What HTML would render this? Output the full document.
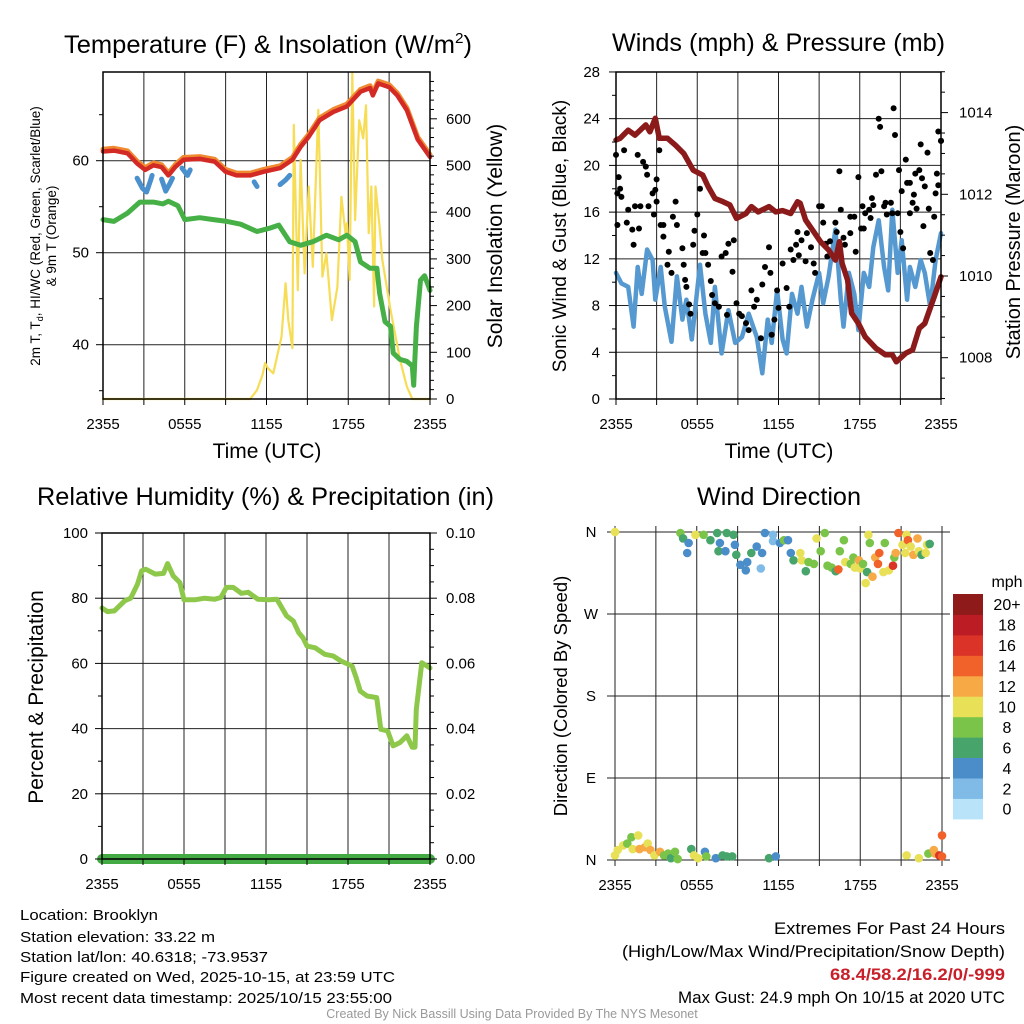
<!DOCTYPE html>
<html><head><meta charset="utf-8"><style>
body{margin:0;background:#fff}
svg{display:block;font-family:"Liberation Sans",Arial,sans-serif}
</style></head><body>
<svg id="fig" width="1024" height="1024" viewBox="0 0 1024 1024" xmlns="http://www.w3.org/2000/svg">
<rect width="1024" height="1024" fill="#fff"/>
<g id="grid" stroke="#222" stroke-width="1"></g>
<g id="marks"></g>
<g id="axes" stroke="#000" stroke-width="1"></g>
<g id="labels" font-size="15" fill="#000"></g>
<!-- titles -->
<text x="64" y="53" font-size="25" textLength="408" lengthAdjust="spacingAndGlyphs">Temperature (F) &amp; Insolation (W/m<tspan font-size="15" dy="-10">2</tspan><tspan dy="10">)</tspan></text>
<text x="612" y="51" font-size="25" textLength="333" lengthAdjust="spacingAndGlyphs">Winds (mph) &amp; Pressure (mb)</text>
<text x="37" y="505" font-size="25" textLength="457" lengthAdjust="spacingAndGlyphs">Relative Humidity (%) &amp; Precipitation (in)</text>
<text x="697" y="505" font-size="25" textLength="164" lengthAdjust="spacingAndGlyphs">Wind Direction</text>
<!-- axis titles -->
<text x="267" y="458" font-size="21" text-anchor="middle">Time (UTC)</text>
<text x="779" y="458" font-size="21" text-anchor="middle">Time (UTC)</text>
<text font-size="13.5" text-anchor="middle" transform="translate(40,236) rotate(-90)">2m T, T<tspan font-size="9" dy="3">d</tspan><tspan dy="-3">, HI/WC (Red, Green, Scarlet/Blue)</tspan></text>
<text font-size="13.5" text-anchor="middle" transform="translate(56,236) rotate(-90)">&amp; 9m T (Orange)</text>
<text font-size="21" text-anchor="middle" transform="translate(502,236) rotate(-90)">Solar Insolation (Yellow)</text>
<text font-size="19" text-anchor="middle" transform="translate(566,236) rotate(-90)">Sonic Wind &amp; Gust (Blue, Black)</text>
<text font-size="20" text-anchor="middle" transform="translate(1020,242) rotate(-90)">Station Pressure (Maroon)</text>
<text font-size="21" text-anchor="middle" transform="translate(43,697) rotate(-90)">Percent &amp; Precipitation</text>
<text font-size="18.5" text-anchor="middle" transform="translate(567,696) rotate(-90)">Direction (Colored By Speed)</text>
<!-- footer info -->
<g font-size="15">
<text x="20" y="920" textLength="138" lengthAdjust="spacingAndGlyphs">Location: Brooklyn</text>
<text x="20" y="942" textLength="195" lengthAdjust="spacingAndGlyphs">Station elevation: 33.22 m</text>
<text x="20" y="962" textLength="248" lengthAdjust="spacingAndGlyphs">Station lat/lon: 40.6318; -73.9537</text>
<text x="20" y="982" textLength="375" lengthAdjust="spacingAndGlyphs">Figure created on Wed, 2025-10-15, at 23:59 UTC</text>
<text x="20" y="1003" textLength="372" lengthAdjust="spacingAndGlyphs">Most recent data timestamp: 2025/10/15 23:55:00</text>
</g>
<g font-size="16.5">
<text x="774" y="934" textLength="231" lengthAdjust="spacingAndGlyphs">Extremes For Past 24 Hours</text>
<text x="622" y="957" textLength="383" lengthAdjust="spacingAndGlyphs">(High/Low/Max Wind/Precipitation/Snow Depth)</text>
<text x="830" y="980" fill="#c8202a" font-weight="bold" textLength="175" lengthAdjust="spacingAndGlyphs">68.4/58.2/16.2/0/-999</text>
<text x="678" y="1003" textLength="327" lengthAdjust="spacingAndGlyphs">Max Gust: 24.9 mph On 10/15 at 2020 UTC</text>
</g>
<text x="512" y="1018" font-size="12.5" fill="#999" text-anchor="middle">Created By Nick Bassill Using Data Provided By The NYS Mesonet</text>
<g id="cbar"></g>
</svg>
<script>
// ---------- data ----------
const xTickLabels = ["2355","0555","1155","1755","2355"];
const tempTime = [0,0.8,1.8,2.5,3.1,3.7,4.3,4.8,5.3,5.9,7.1,8.2,9.0,9.8,10.8,11.8,13.0,13.9,14.5,15.1,15.9,16.9,17.9,18.9,19.6,19.8,20.2,21.0,21.6,22.3,23.1,24];
const tempVals = [61.0,61.1,60.8,59.7,59.0,59.5,59.3,58.4,59.3,60.1,60.2,59.9,58.8,58.4,58.4,58.8,59.2,60.1,61.5,62.6,64.4,65.3,65.9,67.5,67.9,67.1,68.4,68.0,67.1,65.5,62.3,60.4];
const dewTime = [0,0.8,1.8,2.7,3.7,4.4,4.8,5.5,6.0,7.1,8.1,9.1,10.1,11.3,12.3,12.9,13.7,14.5,15.4,16.4,17.3,17.9,18.5,18.9,19.6,20.1,20.3,20.7,21.1,21.3,21.8,22.3,22.7,22.8,23.0,23.3,23.6,24];
const dewVals = [53.6,53.4,54.3,55.5,55.5,55.3,55.6,55.1,53.6,53.8,53.6,53.4,53.1,52.3,52.7,53.0,51.2,50.8,51.2,51.9,51.4,51.9,51.2,49.0,48.3,48.3,45.6,42.5,42.0,39.1,38.4,38.2,37.7,35.6,42.0,47.0,47.5,45.9];
const hiwcSegments = [
  [[2.5,58.1],[2.9,57.0],[3.2,56.6],[3.5,57.9],[3.6,58.4]],
  [[4.3,58.0],[4.6,56.7],[4.9,57.5],[5.1,58.1]],
  [[5.8,59.2],[6.2,58.4],[6.4,59.0]],
  [[11.1,57.7],[11.3,57.2]],
  [[13.0,57.4],[13.4,57.9],[13.7,58.4]]
];
const solTime = [0,10.8,11.3,11.7,11.9,12.1,12.5,13.1,13.4,13.6,13.9,14.0,14.3,14.5,14.8,15.1,15.4,15.8,16.1,16.4,16.8,17.2,17.5,17.8,17.9,18.1,18.3,18.5,18.8,19.1,19.3,19.5,19.7,19.9,20.0,20.3,20.5,21.1,21.8,22.3,22.7,24];
const solVals = [0,0,19,51,77,66,55,133,248,169,109,587,233,512,269,455,283,619,262,312,169,240,433,355,376,255,698,383,597,558,629,355,455,198,455,369,298,191,84,27,0,0];
const windTime = [0,0.4,0.9,1.3,1.6,1.9,2.3,2.7,2.9,3.3,3.6,4.1,4.5,4.9,5.2,5.6,6.2,6.6,7.0,7.3,7.8,8.3,8.8,9.3,9.8,10.4,10.8,11.2,11.5,11.9,12.3,12.6,13.0,13.4,13.7,14.1,14.5,15.0,15.3,15.7,16.2,16.6,16.8,17.2,17.6,17.9,18.3,18.7,19.0,19.4,19.8,20.1,20.4,20.8,21.1,21.5,21.7,22.1,22.5,22.8,23.2,23.6,24];
const windVals = [10.8,9.9,9.6,6.2,11.3,9.0,12.8,11.9,8.5,11.3,7.9,4.9,10.5,6.8,8.5,5.1,11.5,7.3,4.8,9.6,3.9,7.6,4.8,5.3,7.3,5.3,2.2,6.8,4.8,9.3,5.1,3.9,9.0,7.3,9.6,6.2,8.5,10.8,8.2,10.5,14.5,8.5,6.2,10.8,9.0,5.9,10.8,9.6,13.0,15.3,11.3,9.3,16.2,10.8,13.6,8.5,11.3,9.6,11.9,10.8,7.9,11.9,14.2];
const gustTime = [0,0.2,0.1,0.3,0.1,0.6,0.4,0.9,0.8,1.2,1.4,1.6,1.3,1.7,1.8,2.0,2.2,2.3,2.4,2.7,2.8,2.9,3.0,3.2,3.0,3.3,3.5,3.5,3.9,3.8,4.1,4.2,4.4,4.5,4.9,5.0,5.1,5.2,5.4,5.5,5.7,5.8,6.0,6.2,6.4,6.5,6.6,6.8,7.0,7.1,7.3,7.6,7.8,8.1,8.2,8.3,8.6,8.7,8.9,9.1,9.3,9.6,9.8,10.0,10.2,10.4,10.7,10.8,11.0,11.3,11.4,11.5,11.7,11.9,12.0,12.3,12.6,12.8,12.9,13.1,13.3,13.4,13.5,13.7,14.0,14.1,14.4,14.6,14.7,15.0,15.2,15.3,15.5,15.6,15.8,16.2,16.3,16.5,16.6,16.8,16.9,17.3,17.3,17.6,17.7,17.9,18.1,18.2,18.3,18.4,18.7,18.8,18.9,19.0,19.2,19.4,19.5,19.6,19.8,19.9,20.0,20.3,20.4,20.5,20.6,20.8,20.9,21.0,21.1,21.2,21.4,21.5,21.7,21.7,21.9,22.0,22.1,22.2,22.4,22.5,22.6,22.7,22.8,23.0,23.1,23.2,23.4,23.5,23.6,23.7,23.8,24.0,23.8,24.0];
const gustVals = [20.9,19.0,17.6,18.0,14.9,21.3,17.3,16.2,15.1,14.5,16.5,20.9,13.2,14.6,16.5,20.3,19.9,19.2,16.5,17.6,15.8,17.9,16.9,21.3,18.8,14.9,14.9,13.9,12.6,11.5,10.8,15.6,16.9,14.9,12.9,11.5,10.2,9.6,8.1,7.3,13.2,14.4,15.8,18.0,12.5,14.0,12.5,11.5,10.1,8.9,8.2,7.9,12.2,12.5,7.2,13.3,10.9,13.6,8.2,7.3,7.1,6.5,5.9,9.3,7.9,8.5,5.2,9.8,11.3,13.0,10.8,5.5,6.8,9.3,7.8,11.6,9.5,7.9,12.8,11.9,13.2,14.3,12.3,13.6,11.8,14.2,13.0,11.6,10.8,16.5,16.5,15.1,13.3,12.2,13.5,15.1,14.3,19.5,16.2,13.8,13.2,14.2,15.6,15.6,12.6,19.0,14.6,16.5,14.6,15.9,16.2,15.5,17.2,16.6,19.2,24.0,23.3,19.5,16.5,16.8,15.8,16.8,15.9,24.9,22.6,15.9,19.6,14.3,17.8,12.9,20.5,18.5,15.9,18.5,16.8,17.5,19.3,16.3,19.6,21.8,18.9,14.8,18.2,21.1,16.3,12.5,11.9,15.6,17.6,19.3,18.3,22.1,22.9,22.1];
const presTime = [0,0.3,0.9,1.4,2.2,2.5,2.9,3.2,3.8,4.4,5.0,5.7,6.4,6.8,7.3,7.9,8.4,8.9,9.6,10.0,10.5,11.3,11.8,12.3,12.9,13.4,13.6,14.0,14.5,15.1,15.7,16.2,16.5,16.7,17.1,17.4,17.9,18.4,19.2,19.9,20.4,20.7,21.4,21.9,22.4,22.8,23.5,24];
const presVals = [1013.33,1013.37,1013.57,1013.45,1013.70,1013.53,1013.86,1013.37,1013.37,1013.2,1013.0,1012.59,1012.47,1012.19,1011.90,1011.82,1011.74,1011.41,1011.53,1011.70,1011.57,1011.70,1011.57,1011.60,1011.53,1011.82,1011.78,1011.37,1011.13,1010.84,1010.64,1010.39,1010.84,1010.31,1009.90,1009.09,1008.84,1008.51,1008.23,1008.07,1008.07,1007.90,1008.11,1008.19,1008.72,1008.84,1009.49,1009.98];
const rhTime = [0,0.4,0.9,1.66,2.1,2.6,2.9,3.2,3.9,4.5,4.8,5.2,5.7,6.0,6.8,7.5,8.25,8.7,9.1,9.6,10.2,10.7,11.4,12.2,12.8,13.5,14,14.4,14.7,15,15.6,16.3,16.9,17.5,18.3,18.6,18.9,19.4,20.1,20.4,20.9,21.3,21.8,22.3,22.7,22.9,23.0,23.4,24];
const rhVals = [77.0,75.9,76.1,79.2,80,84.3,88.4,88.9,87.4,87.6,90.6,86.9,84.8,79.5,79.5,80,79.7,80.2,83.3,83.3,81.5,81.8,79.7,79.5,79.7,74.6,73,69.4,67.9,65.3,64.8,62.8,62.3,60.7,59.2,55.6,51.5,50,49.5,39.8,39.3,34.7,35.7,37.8,34.3,34.3,45.9,60.2,58.6];
const precipTime = [0,24];
const precipVals = [0,0];
const dirTime = [0,4.8,5.0,5.4,5.3,5.9,6.5,7.0,7.5,7.7,7.6,8.1,8.2,8.7,8.8,8.9,9.2,9.6,9.7,10.0,10.4,10.7,10.8,11.0,11.6,11.6,12.1,12.4,12.7,12.9,13.1,13.6,13.7,14.0,14.2,14.6,14.8,15.1,15.4,15.6,15.9,16.2,16.4,16.5,16.8,16.9,17.3,17.5,17.6,17.9,18.0,18.2,18.4,18.5,18.6,18.7,18.9,19.1,19.3,19.4,19.7,19.8,20.1,20.4,20.5,20.6,20.8,21.1,21.3,21.4,21.5,21.7,21.9,22.2,22.3,22.5,22.8,22.9,23.1,
  0,0.2,0.6,0.9,1.2,1.3,1.7,1.8,2.2,2.4,2.6,2.9,3.3,3.6,3.9,4.1,4.4,4.6,5.6,5.8,6.1,6.6,6.7,7.4,7.9,8.2,8.6,11.3,11.8,21.4,22.3,23.0,23.4,23.5,23.8,24,24];
const dirDeg = [360,359,353,348,337,357,357,351,359,348,339,339,359,357,346,335,324,318,327,337,344,320,337,359,357,350,348,351,351,337,329,337,329,317,327,325,353,339,359,323,321,317,319,339,351,327,325,332,321,329,320,325,304,316,357,348,311,332,325,337,316,348,318,323,332,337,359,346,337,357,351,344,335,353,339,335,337,346,347,
  5,11,16,18,25,12,27,12,14,18,11,5,9,5,7,2,9,1,12,5,2,9,4,2,5,4,4,2,4,5,2,7,11,7,5,27,4];
const dirSpeed = [10,8,6,4,4,10,8,6,6,4,6,4,6,6,4,6,4,4,4,6,4,2,4,4,2,2,4,8,4,4,6,10,10,6,8,8,10,8,8,8,8,6,14,8,8,10,8,8,10,12,10,8,10,6,10,8,12,12,14,14,10,8,10,16,8,12,14,10,10,10,14,10,12,12,10,6,10,10,6,
  10,10,10,8,8,10,10,12,12,10,12,10,12,8,8,6,8,8,6,10,10,4,8,4,6,6,6,6,4,10,10,8,12,12,16,14,14];
const cbarLabels = ["0","2","4","6","8","10","12","14","16","18","20+"];
const cbarColors = ["#b8e3f8","#7fbbe6","#4a8dc8","#47a56c","#7bc44a","#e8e158","#f6a945","#f0622a","#db3328","#bc1d24","#8e1a1a"];
const tempTicks = [40,50,60];
const solTicks = [0,100,200,300,400,500,600];
const windTicks = [0,4,8,12,16,20,24,28];
const presTicks = [1008,1010,1012,1014];
const rhTicks = [0,20,40,60,80,100];
const precTicks = ["0.00","0.02","0.04","0.06","0.08","0.10"];
const dirTicks = ["N","E","S","W","N"];

// ---------- scales ----------
const P1={l:103,r:430,t:72,b:399}, P2={l:616,r:941,t:72,b:399}, P3={l:102,r:430,t:533,b:859}, P4={l:615,r:942,t:532,b:860};
const xs=(P)=>t=>P.l+(P.r-P.l)*t/24;
const x1=xs(P1),x2=xs(P2),x3=xs(P3),x4=xs(P4);
const yT=v=>160.7-(v-60)*9.2;
const yS=v=>399-v*0.467;
const yW=v=>399-v*11.68;
const yP=v=>357.7-(v-1008)*40.85;
const yH=v=>859-v*3.26;
const yPr=v=>859-v*3260;
const yD=v=>860-v*0.911;

const NS="http://www.w3.org/2000/svg";
function mk(parent,tag,attrs){const e=document.createElementNS(NS,tag);for(const k in attrs)e.setAttribute(k,attrs[k]);parent.appendChild(e);return e;}
const G=document.getElementById('grid'),M=document.getElementById('marks'),A=document.getElementById('axes'),L=document.getElementById('labels');

function line(parent,x1_,y1_,x2_,y2_,name,extra){const e=mk(parent,'line',Object.assign({x1:x1_,y1:y1_,x2:x2_,y2:y2_},extra||{}));


return e;}
function txt(x,y,s,anchor,name,size){const e=mk(L,'text',{x:x,y:y,'text-anchor':anchor});if(size)e.setAttribute('font-size',size);e.textContent=s;


return e;}
function poly(xa,ya,xf,yf,color,w,name){const pts=xa.map((t,i)=>xf(t).toFixed(1)+','+yf(ya[i]).toFixed(1)).join(' ');
const e=mk(M,'polyline',{points:pts,fill:'none',stroke:color,'stroke-width':w,'stroke-linejoin':'round','stroke-linecap':'round'});


return e;}
function frame(P,name){const e=mk(A,'rect',{x:P.l,y:P.t,width:P.r-P.l,height:P.b-P.t,fill:'none','stroke-width':1.5});

}
function xAxis(P,xf,name){for(let h=0;h<=24;h+=3){if(h>0&&h<24)line(G,xf(h),P.t,xf(h),P.b,'vertical-grid-line');line(A,xf(h),P.b,xf(h),P.b+6,'x-tick');}
for(let i=0;i<5;i++)txt(xf(i*6),P.b+30,xTickLabels[i],'middle',name+'-x-tick-label');}

// ---- panel 1 ----
xAxis(P1,x1,'temp');
tempTicks.forEach(v=>{line(G,P1.l,yT(v),P1.r,yT(v),'temp-grid-line');line(A,P1.l-7,yT(v),P1.l,yT(v),'temp-y-tick');txt(P1.l-14,yT(v)+5,String(v),'end','temp-y-tick-label');});
[35,45,55,65].forEach(v=>line(A,P1.l-4,yT(v),P1.l,yT(v),'temp-minor-tick'));
for(let v=0;v<=690;v+=20){const maj=v%100===0;line(A,P1.r,yS(v),P1.r+(maj?7:4),yS(v),'insolation-tick');}
solTicks.forEach(v=>txt(P1.r+16,yS(v)+5,String(v),'start','insolation-tick-label'));
poly(solTime,solVals,x1,yS,'#f7dc55',2.2,'insolation-line');
poly(dewTime,dewVals,x1,yT,'#46b046',5,'dewpoint-line');
hiwcSegments.forEach(seg=>poly(seg.map(p=>p[0]),seg.map(p=>p[1]),x1,yT,'#4a90cc',5,'hiwc-line'));
poly(tempTime,tempVals.map(v=>v+0.25),x1,yT,'#f08a30',5,'temp-9m-line');
poly(tempTime,tempVals,x1,yT,'#d42a25',4.5,'temp-2m-line');
frame(P1,'temp-plot-frame');

// ---- panel 2 ----
xAxis(P2,x2,'wind');
windTicks.forEach(v=>{if(v>0&&v<28)line(G,P2.l,yW(v),P2.r,yW(v),'wind-grid-line');line(A,P2.l-7,yW(v),P2.l,yW(v),'wind-y-tick');txt(P2.l-16,yW(v)+5,String(v),'end','wind-y-tick-label');});
for(let v=2;v<28;v+=4)line(A,P2.l-4,yW(v),P2.l,yW(v),'wind-minor-tick');
for(let p=1007;p<=1015.01;p+=0.5){const maj=Math.abs(p%2)<0.01;line(A,P2.r,yP(p),P2.r+(maj?7:4),yP(p),'pressure-tick');}
presTicks.forEach(v=>txt(P2.r+18,yP(v)+5,String(v),'start','pressure-tick-label'));
poly(windTime,windVals,x2,yW,'#5599d0',4.5,'sonic-wind-line');
gustTime.forEach((t,i)=>{const c=mk(M,'circle',{cx:x2(t).toFixed(1),cy:yW(gustVals[i]).toFixed(1),r:3,fill:'#000'});

});
poly(presTime,presVals,x2,yP,'#8b1a1a',5.5,'pressure-line');
frame(P2,'wind-plot-frame');

// ---- panel 3 ----
xAxis(P3,x3,'rh');
rhTicks.forEach(v=>{if(v>0&&v<100)line(G,P3.l,yH(v),P3.r,yH(v),'rh-grid-line');line(A,P3.l-7,yH(v),P3.l,yH(v),'rh-y-tick');txt(P3.l-14,yH(v)+5,String(v),'end','rh-y-tick-label');});
for(let v=10;v<100;v+=20)line(A,P3.l-4,yH(v),P3.l,yH(v),'rh-minor-tick');
for(let i=0;i<=20;i++){const v=i*0.005;line(A,P3.r,yPr(v),P3.r+(i%4===0?7:4),yPr(v),'precip-tick');}
precTicks.forEach(s=>txt(P3.r+16,yPr(parseFloat(s))+5,s,'start','precip-tick-label'));
poly(rhTime,rhVals,x3,yH,'#8dc84b',5,'rh-line');
poly(precipTime,precipVals,x3,yPr,'#44aa44',10,'precip-line');
frame(P3,'rh-plot-frame');

// ---- panel 4 ----
for(let h=0;h<=24;h+=3){line(G,x4(h),P4.t-6,x4(h),P4.b+6,'dir-vertical-grid');}
for(let i=0;i<5;i++)txt(x4(i*6),P4.b+30,xTickLabels[i],'middle','dir-x-tick-label');
dirTicks.forEach((s,i)=>{line(G,P4.l-8,yD(i*90),P4.r+8,yD(i*90),'dir-grid-line');txt(P4.l-24,yD(i*90)+5,s,'middle','dir-y-tick-label');});
dirTime.forEach((t,i)=>{const idx=Math.min(10,Math.floor(dirSpeed[i]/2));const c=mk(M,'circle',{cx:x4(t).toFixed(1),cy:yD(dirDeg[i]).toFixed(1),r:4.3,fill:cbarColors[idx]});

});

// colorbar
const CB=document.getElementById('cbar');
const cbTop=594,cbH=20.45;
cbarLabels.forEach((s,i)=>{const y=cbTop+(10-i)*cbH;
const r=mk(CB,'rect',{x:953,y:y.toFixed(1),width:30,height:(cbH+0.5).toFixed(1),fill:cbarColors[i]});


txt(1007,y+cbH/2+6,s,'middle','colorbar-label','16');});
txt(1007,587,'mph','middle','colorbar-title','16');
</script>
</body></html>
